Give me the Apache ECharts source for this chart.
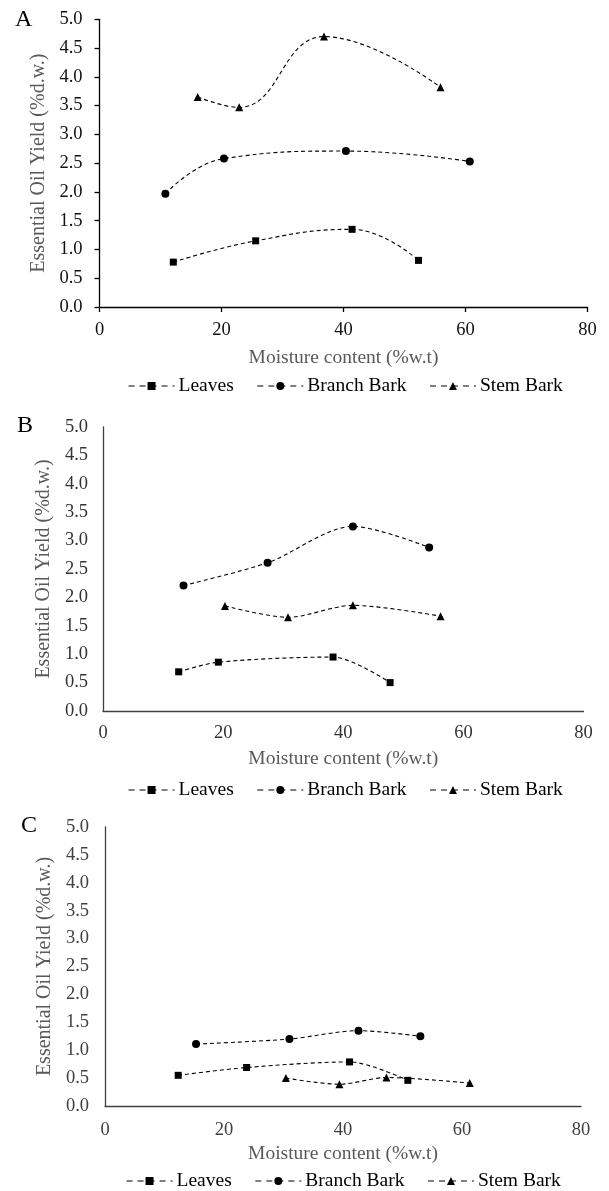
<!DOCTYPE html>
<html>
<head>
<meta charset="utf-8">
<script src="https://cdn.jsdelivr.net/npm/echarts@6/dist/echarts.min.js"></script>
<style>
html,body{margin:0;padding:0;background:#fff;}
#chart{width:609px;height:1191px;}
</style>
</head>
<body>
<div id="chart"></div>
<script>
// ---- data ----
const seriesNames = ['Leaves', 'Branch Bark', 'Stem Bark'];
const panelLabels = ['A', 'B', 'C'];
const xTickValues = [0, 20, 40, 60, 80];
const yTickValues = [0.0, 0.5, 1.0, 1.5, 2.0, 2.5, 3.0, 3.5, 4.0, 4.5, 5.0];
const xAxisTitle = 'Moisture content (%w.t)';
const yAxisTitle = 'Essential Oil Yield (%d.w.)';

// Panel A
const A_leavesX = [12.1, 25.6, 41.4, 52.3];
const A_leavesY = [0.78, 1.15, 1.35, 0.81];
const A_branchX = [10.8, 20.4, 40.4, 60.7];
const A_branchY = [1.97, 2.58, 2.71, 2.53];
const A_stemX = [16.1, 22.9, 36.8, 55.9];
const A_stemY = [3.65, 3.47, 4.70, 3.82];
// Panel B
const B_leavesX = [12.6, 19.2, 38.3, 47.8];
const B_leavesY = [0.69, 0.86, 0.95, 0.50];
const B_branchX = [13.4, 27.4, 41.6, 54.3];
const B_branchY = [2.21, 2.61, 3.25, 2.88];
const B_stemX = [20.3, 30.8, 41.6, 56.2];
const B_stemY = [1.85, 1.65, 1.86, 1.67];
// Panel C
const C_leavesX = [12.3, 23.8, 41.1, 50.9];
const C_leavesY = [0.55, 0.69, 0.79, 0.46];
const C_branchX = [15.3, 31.0, 42.6, 53.0];
const C_branchY = [1.11, 1.20, 1.35, 1.25];
const C_stemX = [30.4, 39.4, 47.3, 61.3];
const C_stemY = [0.50, 0.39, 0.51, 0.41];

const panels = [
  [[A_leavesX, A_leavesY], [A_branchX, A_branchY], [A_stemX, A_stemY]],
  [[B_leavesX, B_leavesY], [B_branchX, B_branchY], [B_stemX, B_stemY]],
  [[C_leavesX, C_leavesY], [C_branchX, C_branchY], [C_stemX, C_stemY]]
];

// ---- layout / style ----
const FONT = '"Liberation Serif", "Times New Roman", serif';
const grids = [
  {left: 99.5, top: 19.3, width: 488, height: 287.7},
  {left: 103, top: 427, width: 480.5, height: 284},
  {left: 105, top: 827, width: 476, height: 279}
];
const titlePos = [{left: 15, top: 8}, {left: 17, top: 414}, {left: 21, top: 814}];
const legendTop = [376, 780, 1171];
const legendLeft = [128, 128, 126];
const axisColors = ['#000000', '#404040', '#404040'];
const labelColors = ['#111111', '#333333', '#404040'];
const showTicks = [true, false, false];
const xNameGap = [41, 38, 38];
const yNameGap = [48, 45, 45];
const xLabelMargin = [14, 13, 15];
const yLabelMargin = [17, 15, 16];
const symbols = ['rect', 'circle', 'triangle'];
const symbolSizes = [7, 8, 8];
const smoothness = [0.45, 0.3, 0.3];

const option = {
  backgroundColor: '#ffffff',
  animation: false,
  title: panelLabels.map((t, i) => ({
    text: t, left: titlePos[i].left, top: titlePos[i].top, padding: 0,
    textStyle: {fontFamily: FONT, fontSize: 24, fontWeight: 'normal', color: '#000'}
  })),
  grid: grids.map(g => Object.assign({containLabel: false}, g)),
  legend: panelLabels.map((t, i) => ({
    data: seriesNames.slice(),
    top: legendTop[i], left: legendLeft[i],
    itemWidth: 46, itemHeight: 10, itemGap: 23,
    padding: 0,
    selectedMode: false,
    lineStyle: {type: [6, 5], width: 1.1, color: '#000'},
    textStyle: {fontFamily: FONT, fontSize: 19.5, color: '#000', padding: [0, 0, 0, -1]}
  })),
  xAxis: grids.map((g, i) => ({
    type: 'value', gridIndex: i, min: xTickValues[0], max: xTickValues[xTickValues.length - 1], interval: 20,
    name: xAxisTitle, nameLocation: 'middle', nameGap: xNameGap[i],
    nameTextStyle: {fontFamily: FONT, fontSize: 19.5, color: '#595959'},
    axisLine: {show: true, onZero: false, lineStyle: {color: axisColors[i], width: 1.3}},
    axisTick: {show: showTicks[i], inside: false, length: 5, lineStyle: {color: axisColors[i], width: 1.3}},
    axisLabel: {fontFamily: FONT, fontSize: 18.5, color: labelColors[i], margin: xLabelMargin[i]},
    splitLine: {show: false}
  })),
  yAxis: grids.map((g, i) => ({
    type: 'value', gridIndex: i, min: yTickValues[0], max: yTickValues[yTickValues.length - 1], interval: 0.5,
    name: yAxisTitle, nameLocation: 'middle', nameGap: yNameGap[i],
    nameTextStyle: {fontFamily: FONT, fontSize: 20, color: '#595959'},
    axisLine: {show: true, onZero: false, lineStyle: {color: axisColors[i], width: 1.3}},
    axisTick: {show: showTicks[i], inside: false, length: 5, lineStyle: {color: axisColors[i], width: 1.3}},
    axisLabel: {fontFamily: FONT, fontSize: 18.5, color: labelColors[i], margin: yLabelMargin[i],
      formatter: v => v.toFixed(1)},
    splitLine: {show: false}
  })),
  series: []
};

panels.forEach((panel, pi) => {
  panel.forEach((s, si) => {
    option.series.push({
      type: 'line', name: seriesNames[si],
      xAxisIndex: pi, yAxisIndex: pi,
      data: s[0].map((x, k) => [x, s[1][k]]),
      smooth: smoothness[pi],
      symbol: symbols[si], symbolSize: symbolSizes[si],
      showAllSymbol: true,
      itemStyle: {color: '#000'},
      lineStyle: {color: '#000', width: 1.1, type: [4, 3]},
      emphasis: {disabled: true}
    });
  });
});

const chart = echarts.init(document.getElementById('chart'), null, {renderer: 'canvas'});
chart.setOption(option);
</script>
</body>
</html>
